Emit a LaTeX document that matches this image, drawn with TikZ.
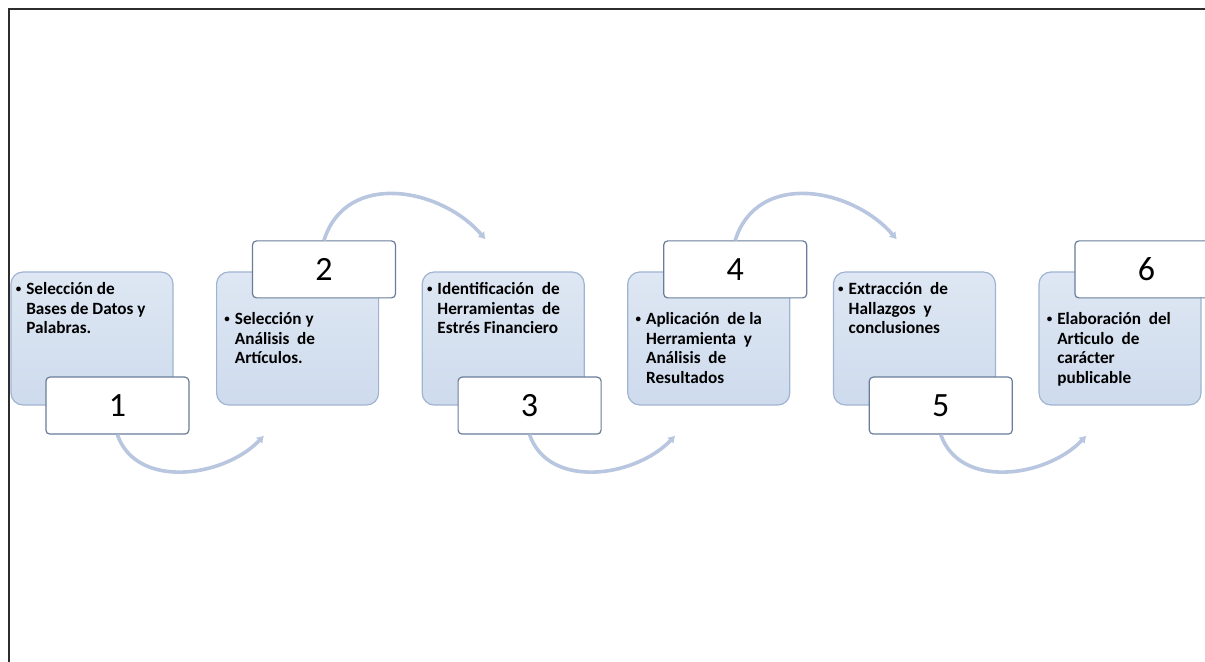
\documentclass[tikz,border=0pt]{standalone}
\usepackage{fontspec}
\setmainfont{Carlito}
\usepackage{tikz}
\usetikzlibrary{shapes,arrows,arrows.meta}
\definecolor{boxtop}{RGB}{222,231,243}
\definecolor{boxbot}{RGB}{206,219,237}
\definecolor{boxline}{RGB}{160,180,210}
\definecolor{numline}{RGB}{105,125,155}
\definecolor{arcblue}{RGB}{184,198,224}
\definecolor{framegray}{RGB}{45,45,45}
\tikzstyle{block} = [rectangle, draw=boxline, line width=0.6pt, top color=boxtop,
    bottom color=boxbot, rounded corners=6pt, minimum width=81pt, minimum height=66.5pt]
\tikzstyle{numbox} = [rectangle, draw=numline, line width=0.6pt, fill=white,
    rounded corners=2pt, minimum width=71.5pt, minimum height=28.5pt,
    font=\fontsize{17}{20}\selectfont]
\tikzstyle{texto} = [anchor=north west, inner sep=0pt,
    font=\fontsize{8.6}{9.8}\selectfont\bfseries]
\tikzstyle{arco} = [draw=arcblue, line width=1.8pt, -{Latex[length=3.5pt,width=4.6pt]}]
\newcommand{\pasotexto}[1]{\begin{tabular}[t]{@{}l@{\hspace{2.5pt}}l@{}}\raisebox{1.1pt}{\fontsize{5.5}{5.5}\selectfont\textbullet} & #1\end{tabular}}

\begin{document}
\begin{tikzpicture}[x=0.5pt, y=-0.5pt]
        \useasboundingbox (0,0) rectangle (1205,662);
        \draw [framegray, line width=1pt] (9,662) -- (9,9) -- (1205,9);

        % Place boxes
        \node (paso1) [block] at (92,338.5) {};
        \path (paso1.east)+(124,0) node (paso2) [block] {};
        \path (paso2.east)+(124,0) node (paso3) [block] {};
        \path (paso3.east)+(124,0) node (paso4) [block] {};
        \path (paso4.east)+(124,0) node (paso5) [block] {};
        \path (paso5.east)+(124,0) node (paso6) [block] {};

        % Texts
        \path (paso1.north west)+(5,9) node (txt1) [texto]
            {\pasotexto{Selección de\\ & Bases de Datos y\\ & Palabras.}};
        \path (paso2.north west)+(8,39) node (txt2) [texto]
            {\pasotexto{Selección y\\ & Análisis \ de\\ & Artículos.}};
        \path (paso3.north west)+(5,9) node (txt3) [texto]
            {\pasotexto{Identificación \ de\\ & Herramientas \ de\\ & Estrés Financiero}};
        \path (paso4.north west)+(8,39) node (txt4) [texto]
            {\pasotexto{Aplicación \ de la\\ & Herramienta \ y\\ & Análisis \ de\\ & Resultados}};
        \path (paso5.north west)+(5,9) node (txt5) [texto]
            {\pasotexto{Extracción \ de\\ & Hallazgos \ y\\ & conclusiones}};
        \path (paso6.north west)+(8,39) node (txt6) [texto]
            {\pasotexto{Elaboración \ del\\ & Articulo \ de\\ & carácter\\ & publicable}};

        % Numbers
        \path (paso1.south west)+(107,0) node (num1) [numbox] {1};
        \path (paso2.north west)+(108,-2) node (num2) [numbox] {2};
        \path (paso3.south west)+(108,0) node (num3) [numbox] {3};
        \path (paso4.north west)+(108,-2) node (num4) [numbox] {4};
        \path (paso5.south west)+(108,0) node (num5) [numbox] {5};
        \path (paso6.north west)+(108,-2) node (num6) [numbox] {6};

        % Arrow ends
        \path (paso2.south west)+(48,30) coordinate (fin1);
        \path (paso3.north west)+(64,-32) coordinate (fin2);
        \path (paso4.south west)+(48,30) coordinate (fin3);
        \path (paso5.north west)+(64,-32) coordinate (fin4);
        \path (paso6.south west)+(48,30) coordinate (fin5);

        % Arcs
        \path [arco] (num1.south) .. controls +(19,55) and +(-40,42) .. (fin1);
        \path [arco] (num2.north) .. controls +(22,-70) and +(-45,-52) .. (fin2);
        \path [arco] (num3.south) .. controls +(19,55) and +(-40,42) .. (fin3);
        \path [arco] (num4.north) .. controls +(22,-70) and +(-45,-52) .. (fin4);
        \path [arco] (num5.south) .. controls +(19,55) and +(-40,42) .. (fin5);
    \end{tikzpicture}
\end{document}
